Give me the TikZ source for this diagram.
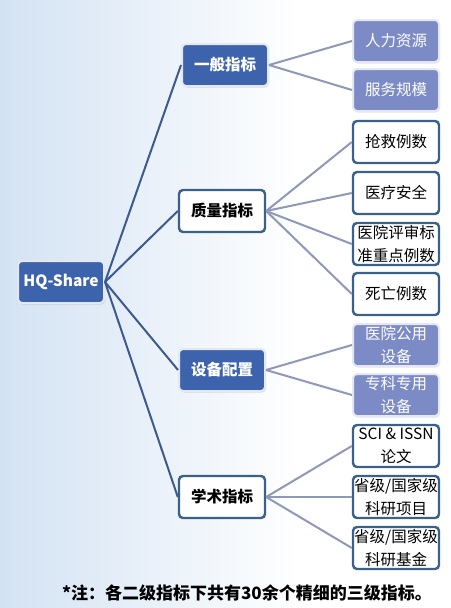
\documentclass[tikz,border=0pt]{standalone}
\usepackage{fontspec}
\setmainfont{Noto Sans CJK SC}
\usetikzlibrary{shadows}
\definecolor{darkfill}{HTML}{3E63AD}
\definecolor{lightfill}{HTML}{7C8BC6}
\definecolor{boxedge}{HTML}{3A6189}
\definecolor{rimcol}{HTML}{E4E9F1}
\definecolor{trunk}{HTML}{3D5A8C}
\definecolor{twig}{HTML}{8F98B6}
\definecolor{bgleft}{HTML}{D3E2F3}
\tikzset{
  basebox/.style={rounded corners=4pt, minimum width=86pt, minimum height=42pt,
    inner sep=0pt, align=center, font=\fontsize{15.5}{23}\selectfont},
  darkbox/.style={basebox, fill=darkfill, draw=rimcol, line width=2pt, text=white,
    font=\fontsize{15.5}{23}\selectfont\bfseries,
    drop shadow={shadow xshift=1pt, shadow yshift=-1.5pt, opacity=0.25}},
  whitebox/.style={basebox, fill=white, draw=boxedge, line width=2.4pt, text=black,
    font=\fontsize{15.5}{23}\selectfont\bfseries},
  leafwhite/.style={basebox, fill=white, draw=boxedge, line width=2.4pt, text=black},
  leaflight/.style={basebox, fill=lightfill, draw=rimcol, line width=2pt, text=white,
    drop shadow={shadow xshift=1pt, shadow yshift=-1.5pt, opacity=0.2}},
  trunkline/.style={draw=trunk, line width=2pt},
  twigline/.style={draw=twig, line width=2pt},
}
\begin{document}
\begin{tikzpicture}[x=1pt,y=-1pt]
\useasboundingbox (0,0) rectangle (450,608);
\fill[white] (0,0) rectangle (450,608);
\shade[left color=bgleft, right color=white] (0,0) rectangle (300,608);

% root
\node[darkbox] (root) at (61,282) {HQ-Share};
% level 2
\node[darkbox]  (g1) at (225,65)  {一般指标};
\node[whitebox] (g2) at (222,211) {质量指标};
\node[darkbox]  (g3) at (222,370) {设备配置};
\node[whitebox] (g4) at (222,497) {学术指标};
% level 3
\node[leaflight] (a1) at (396,41)  {人力资源};
\node[leaflight] (a2) at (396,90)  {服务规模};
\node[leafwhite] (b1) at (396,142) {抢救例数};
\node[leafwhite] (b2) at (396,193) {医疗安全};
\node[leafwhite] (b3) at (396,244) {医院评审标\\准重点例数};
\node[leafwhite] (b4) at (396,294) {死亡例数};
\node[leaflight] (c1) at (396,345) {医院公用\\设备};
\node[leaflight] (c2) at (396,395) {专科专用\\设备};
\node[leafwhite] (d1) at (396,446) {SCI \& ISSN\\论文};
\node[leafwhite] (d2) at (396,497) {省级/国家级\\科研项目};
\node[leafwhite] (d3) at (396,548) {省级/国家级\\科研基金};

% connectors
\draw[trunkline] (root.east) -- (g1.west);
\draw[trunkline] (root.east) -- (g2.west);
\draw[trunkline] (root.east) -- (g3.west);
\draw[trunkline] (root.east) -- (g4.west);
\foreach \t in {a1,a2} \draw[twigline] (g1.east) -- (\t.west);
\foreach \t in {b1,b2,b3,b4} \draw[twigline] (g2.east) -- (\t.west);
\foreach \t in {c1,c2} \draw[twigline] (g3.east) -- (\t.west);
\foreach \t in {d1,d2,d3} \draw[twigline] (g4.east) -- (\t.west);

\node[font=\fontsize{17}{20}\selectfont\bfseries, anchor=center] (note) at (247,593) {*注：各二级指标下共有30余个精细的三级指标。};
\end{tikzpicture}
\end{document}
